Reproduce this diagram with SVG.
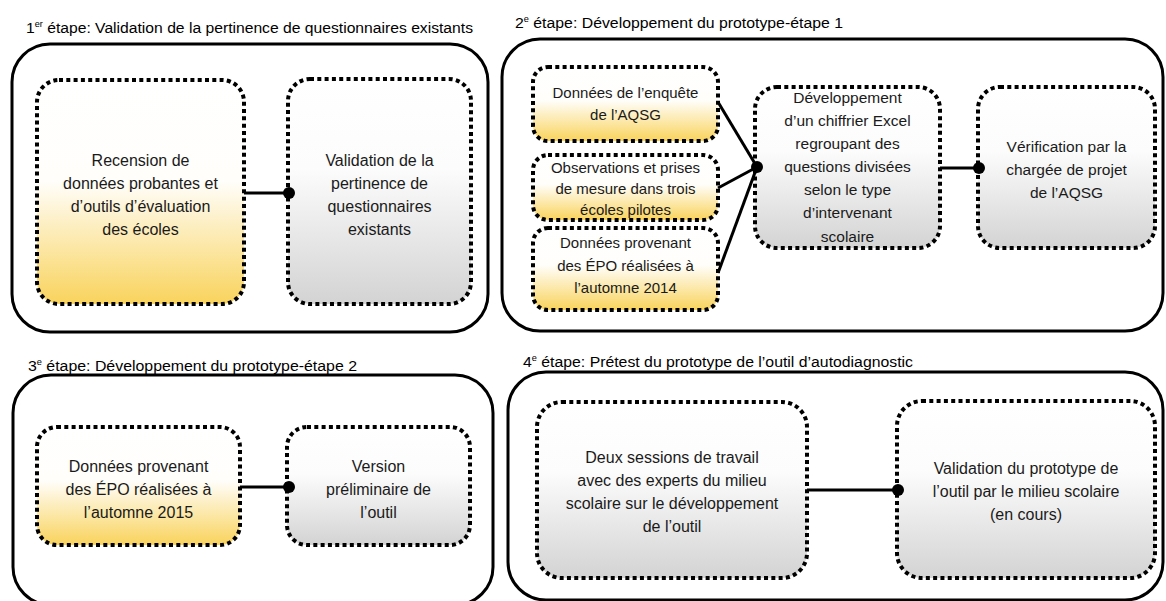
<svg xmlns="http://www.w3.org/2000/svg" width="1166" height="601" viewBox="0 0 1166 601">
<style>
.panel{fill:#fff;stroke:#000;stroke-width:3}
.y{fill:url(#gy);stroke:#000;stroke-width:4;stroke-dasharray:4 3.3}
.g{fill:url(#gg);stroke:#000;stroke-width:4;stroke-dasharray:4 3.3}
.t{font-family:"Liberation Sans",Arial,sans-serif;fill:#1a1a1a;text-anchor:middle;font-size:16px}
.s{font-size:15px}
.m{font-size:15.5px}
.title{font-family:"Liberation Sans",Arial,sans-serif;fill:#000;font-size:15.5px}
.sup{font-size:9px}
.conn line{stroke:#000;stroke-width:3}
.conn circle{fill:#000}
</style>
<defs>
<linearGradient id="gy" x1="0" y1="0" x2="0" y2="1">
<stop offset="0" stop-color="#ffffff"/>
<stop offset="0.45" stop-color="#fffefb"/>
<stop offset="1" stop-color="#f9d35c"/>
</linearGradient>
<linearGradient id="gg" x1="0" y1="0" x2="0" y2="1">
<stop offset="0" stop-color="#ffffff"/>
<stop offset="0.4" stop-color="#fcfcfc"/>
<stop offset="1" stop-color="#d3d3d3"/>
</linearGradient>
</defs>

<g id="panel1">
<text class="title" x="26" y="33" textLength="447" lengthAdjust="spacingAndGlyphs">1<tspan class="sup" dy="-6">er</tspan><tspan dy="6"> étape: Validation de la pertinence de questionnaires existants</tspan></text>
<rect class="panel" x="12" y="44" width="476" height="288" rx="38"/>
</g>
<g id="panel2">
<text class="title" x="515" y="28" textLength="328" lengthAdjust="spacingAndGlyphs">2<tspan class="sup" dy="-6">e</tspan><tspan dy="6"> étape: Développement du prototype-étape 1</tspan></text>
<rect class="panel" x="502" y="39" width="661" height="292" rx="38"/>
</g>
<g id="panel3">
<text class="title" x="28" y="371" textLength="329" lengthAdjust="spacingAndGlyphs">3<tspan class="sup" dy="-6">e</tspan><tspan dy="6"> étape: Développement du prototype-étape 2</tspan></text>
<rect class="panel" x="13" y="375" width="480" height="230" rx="38"/>
</g>
<g id="panel4">
<text class="title" x="523" y="367" textLength="390" lengthAdjust="spacingAndGlyphs">4<tspan class="sup" dy="-6">e</tspan><tspan dy="6"> étape: Prétest du prototype de l’outil d’autodiagnostic</tspan></text>
<rect class="panel" x="508" y="372" width="655" height="228" rx="38"/>
</g>

<g id="n1a">
<rect class="y" x="37" y="80" width="207" height="224" rx="22"/>
<text class="t" x="140.5" y="166">Recension de</text>
<text class="t" x="140.5" y="189">données probantes et</text>
<text class="t" x="140.5" y="212">d’outils d’évaluation</text>
<text class="t" x="140.5" y="235">des écoles</text>
</g>
<g id="n1b">
<rect class="g" x="288" y="79" width="183" height="225" rx="22"/>
<text class="t" x="379.5" y="166">Validation de la</text>
<text class="t" x="379.5" y="189">pertinence de</text>
<text class="t" x="379.5" y="212">questionnaires</text>
<text class="t" x="379.5" y="235">existants</text>
</g>

<g id="n2a">
<rect class="y" x="533" y="67" width="185" height="74" rx="15"/>
<text class="t s" x="625.5" y="98">Données de l’enquête</text>
<text class="t s" x="625.5" y="120">de l’AQSG</text>
</g>
<g id="n2b">
<rect class="y" x="533" y="155" width="185" height="65" rx="15"/>
<text class="t s" x="625.5" y="173">Observations et prises</text>
<text class="t s" x="625.5" y="194">de mesure dans trois</text>
<text class="t s" x="625.5" y="215">écoles pilotes</text>
</g>
<g id="n2c">
<rect class="y" x="533" y="228" width="185" height="82" rx="15"/>
<text class="t s" x="625.5" y="248">Données provenant</text>
<text class="t s" x="625.5" y="270.5">des ÉPO réalisées à</text>
<text class="t s" x="625.5" y="293">l’automne 2014</text>
</g>
<g id="n2d">
<rect class="g" x="755" y="87" width="185" height="161" rx="22"/>
<text class="t m" x="847.5" y="103">Développement</text>
<text class="t m" x="847.5" y="126">d’un chiffrier Excel</text>
<text class="t m" x="847.5" y="149">regroupant des</text>
<text class="t m" x="847.5" y="172">questions divisées</text>
<text class="t m" x="847.5" y="195">selon le type</text>
<text class="t m" x="847.5" y="218">d’intervenant</text>
<text class="t m" x="847.5" y="241.5">scolaire</text>
</g>
<g id="n2e">
<rect class="g" x="978" y="87" width="177" height="161" rx="22"/>
<text class="t m" x="1066.5" y="151.5">Vérification par la</text>
<text class="t m" x="1066.5" y="174.5">chargée de projet</text>
<text class="t m" x="1066.5" y="197.5">de l’AQSG</text>
</g>

<g id="n3a">
<rect class="y" x="37" y="427" width="203" height="118" rx="20"/>
<text class="t" x="138.5" y="471.5">Données provenant</text>
<text class="t" x="138.5" y="494.5">des ÉPO réalisées à</text>
<text class="t" x="138.5" y="517.5">l’automne 2015</text>
</g>
<g id="n3b">
<rect class="g" x="287" y="427" width="183" height="118" rx="20"/>
<text class="t" x="378.5" y="471.5">Version</text>
<text class="t" x="378.5" y="494.5">préliminaire de</text>
<text class="t" x="378.5" y="517.5">l’outil</text>
</g>

<g id="n4a">
<rect class="g" x="537" y="402" width="270" height="176" rx="25"/>
<text class="t" x="672" y="462.5">Deux sessions de travail</text>
<text class="t" x="672" y="485.5">avec des experts du milieu</text>
<text class="t" x="672" y="508.5">scolaire sur le développement</text>
<text class="t" x="672" y="531.5">de l’outil</text>
</g>
<g id="n4b">
<rect class="g" x="897" y="401" width="258" height="177" rx="25"/>
<text class="t" x="1026" y="473.5">Validation du prototype de</text>
<text class="t" x="1026" y="496.5">l’outil par le milieu scolaire</text>
<text class="t" x="1026" y="519.5">(en cours)</text>
</g>

<g id="connectors" class="conn">
<line x1="244" y1="193" x2="289" y2="193"/>
<circle cx="289" cy="193" r="6"/>
<line x1="718" y1="102" x2="757" y2="167"/>
<line x1="718" y1="188" x2="757" y2="167"/>
<line x1="718" y1="273" x2="757" y2="167"/>
<circle cx="757" cy="167" r="6"/>
<line x1="940" y1="168" x2="979" y2="168"/>
<circle cx="979" cy="168" r="6"/>
<line x1="240" y1="487" x2="289" y2="487"/>
<circle cx="289" cy="487" r="6"/>
<line x1="807" y1="490" x2="898" y2="490"/>
<circle cx="898" cy="490" r="6"/>
</g>
</svg>
